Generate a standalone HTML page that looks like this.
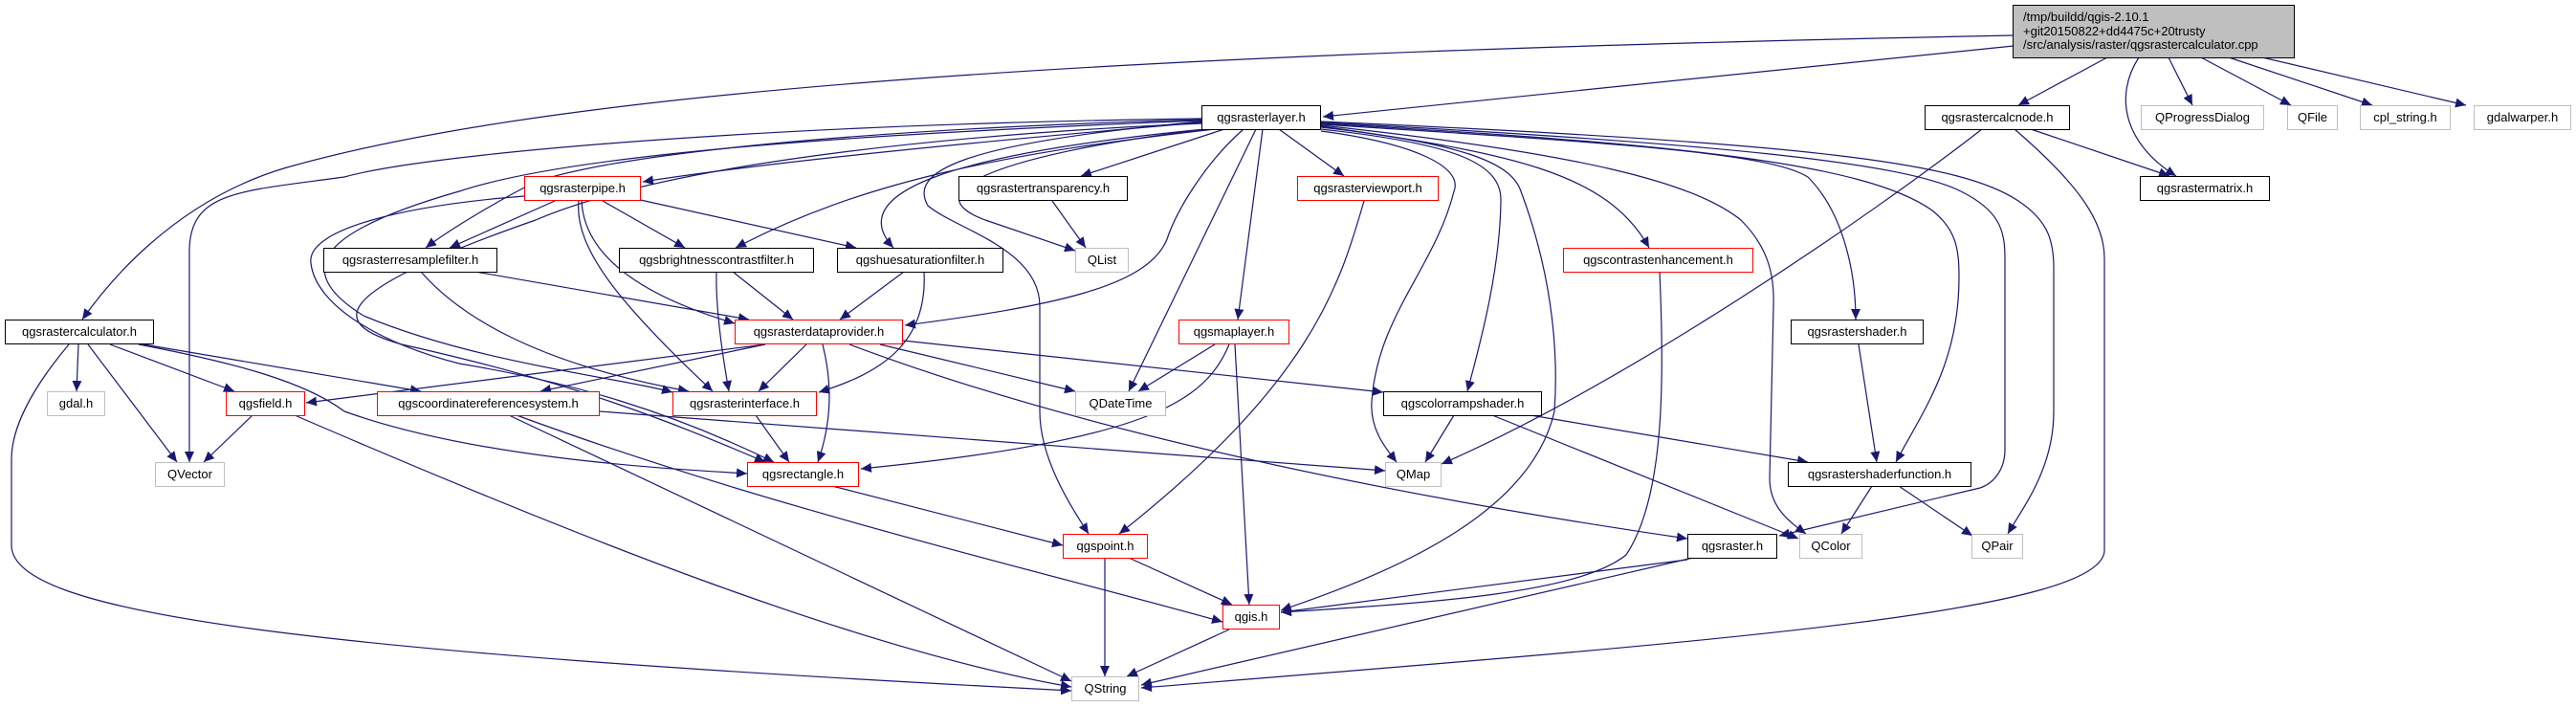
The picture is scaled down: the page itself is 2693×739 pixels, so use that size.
<!DOCTYPE html>
<html><head><meta charset="utf-8"><style>
html,body{margin:0;padding:0;background:#fff;}
#c{position:relative;width:2693px;height:739px;overflow:hidden;font-family:"Liberation Sans","DejaVu Sans",sans-serif;}
svg{position:absolute;left:0;top:0;}
.n{position:absolute;box-sizing:border-box;height:26px;background:#fff;border:1px solid #000;font-size:13px;line-height:24px;text-align:center;white-space:nowrap;color:#000;}
.b{border:1.5px solid #000;line-height:23px;}
.r{border:1px solid #ff0000;}
.g{border:1px solid #bfbfbf;}
</style></head><body><div id="c">
<svg width="2693" height="739" viewBox="0 0 2693 739">
<defs><marker id="a" markerUnits="userSpaceOnUse" markerWidth="12" markerHeight="10" refX="11" refY="5" orient="auto"><path d="M0,0 L11,5 L0,10 z" fill="#191970"/></marker></defs>
<g fill="none" stroke="#191970" stroke-width="1.2" marker-end="url(#a)">
<path d="M2105,48 L1383,122"/>
<path d="M2105,37 C1200,55 600,90 300,175 C180,210 110,300 86,334"/>
<path d="M2203,60 L2110,110"/>
<path d="M2236,60 C2210,100 2220,150 2275,184"/>
<path d="M2267,60 L2292,110"/>
<path d="M2301,60 L2395,110"/>
<path d="M2330,60 L2480,110"/>
<path d="M2365,60 L2578,110"/>
<path d="M2072,135 C1950,230 1700,400 1507,485"/>
<path d="M2123,135 L2268,184"/>
<path d="M2106,135 C2170,190 2200,230 2200,270 L2200,575 C2200,640 1800,670 1193,719"/>
<path d="M1256,128 C1000,150 800,170 672,190"/>
<path d="M1256,125 C900,135 650,160 560,190 C520,210 470,240 445,259"/>
<path d="M1256,124 C800,130 450,160 360,185 C250,200 200,200 198,260 L198,483"/>
<path d="M1256,126 C900,140 600,160 480,200 C340,240 300,280 380,330 C500,380 650,395 703,410"/>
<path d="M1256,129 C1000,140 700,170 560,230 C330,310 350,340 420,360 C600,400 700,440 800,483"/>
<path d="M1270,135 C1050,160 900,190 769,259"/>
<path d="M1260,135 C1000,160 880,200 934,259"/>
<path d="M1280,135 L1130,184"/>
<path d="M1262,135 C1050,160 950,200 1030,230 L1124,262"/>
<path d="M1300,135 C1260,170 1230,220 1220,250 C1200,300 1100,320 946,340"/>
<path d="M1313,135 L1180,409"/>
<path d="M1320,135 L1294,334"/>
<path d="M1256,127 C1000,150 950,180 970,215 C1000,240 1087,260 1087,320 L1087,430 C1087,480 1120,530 1138,558"/>
<path d="M1337,135 L1405,184"/>
<path d="M1381,137 C1480,150 1530,175 1520,200 C1500,280 1440,330 1434,420 C1432,450 1450,470 1460,483"/>
<path d="M1381,135 C1520,150 1570,170 1569,210 C1568,280 1550,350 1534,409"/>
<path d="M1381,133 C1530,150 1580,170 1590,200 C1620,280 1630,360 1625,430 C1600,540 1450,600 1339,638"/>
<path d="M1381,132 C1580,160 1680,180 1724,259"/>
<path d="M1381,130 C1700,150 1850,160 1890,185 C1925,220 1940,280 1940,334"/>
<path d="M1381,129 C1750,150 1950,170 2020,220 C2045,240 2048,260 2048,290 C2048,380 2010,430 1982,483"/>
<path d="M1381,131 C1650,160 1770,190 1820,230 C1850,260 1855,290 1854,320 L1850,500 C1850,530 1870,545 1888,558"/>
<path d="M1381,128 C1800,150 1990,170 2050,200 C2090,220 2096,240 2096,270 L2096,470 C2096,490 2085,505 2070,510 L1860,560"/>
<path d="M1381,127 C1900,150 2050,170 2110,210 C2140,230 2147,250 2147,280 L2147,430 C2147,490 2115,530 2099,558"/>
<path d="M580,210 L470,259"/>
<path d="M630,210 L716,259"/>
<path d="M665,208 L895,259"/>
<path d="M608,210 C610,250 640,300 768,338"/>
<path d="M605,210 C600,260 650,320 745,409"/>
<path d="M548,205 C420,215 320,240 325,275 C330,320 400,360 480,380 C600,400 700,430 809,483"/>
<path d="M497,284 L783,334"/>
<path d="M440,284 C480,330 560,380 720,409"/>
<path d="M766,284 L829,334"/>
<path d="M749,284 C748,320 755,370 762,409"/>
<path d="M945,284 L878,334"/>
<path d="M966,284 C970,360 920,390 856,410"/>
<path d="M1100,210 L1135,259"/>
<path d="M1426,210 C1400,300 1370,400 1170,558"/>
<path d="M800,360 L320,421"/>
<path d="M800,360 L565,409"/>
<path d="M843,360 L793,409"/>
<path d="M860,360 C870,400 870,440 855,483"/>
<path d="M920,360 L1124,409"/>
<path d="M944,356 L1446,410"/>
<path d="M888,360 C1100,440 1400,510 1764,563"/>
<path d="M1270,360 L1190,409"/>
<path d="M1285,360 C1260,420 1200,460 900,490"/>
<path d="M1291,360 L1306,632"/>
<path d="M264,434 L213,483"/>
<path d="M308,434 C600,560 900,680 1120,718"/>
<path d="M627,430 L1448,492"/>
<path d="M540,434 C800,530 1100,600 1278,650"/>
<path d="M532,434 L1120,712"/>
<path d="M82,360 L80,409"/>
<path d="M92,360 L185,483"/>
<path d="M115,360 L245,409"/>
<path d="M150,360 L440,409"/>
<path d="M145,360 C250,380 320,400 360,430 C500,480 700,490 781,495"/>
<path d="M72,360 C30,410 12,450 12,480 L12,570 C12,640 300,680 1120,722"/>
<path d="M790,434 L825,483"/>
<path d="M870,508 L1111,570"/>
<path d="M1520,434 L1490,483"/>
<path d="M1600,434 L1890,483"/>
<path d="M1560,434 L1880,563"/>
<path d="M1943,360 L1962,483"/>
<path d="M1957,508 L1925,558"/>
<path d="M1985,508 L2062,560"/>
<path d="M1735,284 C1740,400 1740,520 1700,580 C1650,620 1500,630 1339,640"/>
<path d="M1180,583 L1288,632"/>
<path d="M1155,583 L1155,707"/>
<path d="M1764,585 L1339,640"/>
<path d="M1770,583 L1193,716"/>
<path d="M1285,658 L1178,707"/>
</g>
</svg>
<div class="n" style="left:2104px;top:5px;width:295px;height:56px;background:#bfbfbf;text-align:left;padding-left:10px;line-height:14.5px;padding-top:5px;">/tmp/buildd/qgis-2.10.1<br>+git20150822+dd4475c+20trusty<br>/src/analysis/raster/qgsrastercalculator.cpp</div>
<div class="n b" style="left:1256px;top:110px;width:125px;">qgsrasterlayer.h</div>
<div class="n b" style="left:2012px;top:110px;width:152px;">qgsrastercalcnode.h</div>
<div class="n g" style="left:2238px;top:110px;width:129px;">QProgressDialog</div>
<div class="n g" style="left:2391px;top:110px;width:53px;">QFile</div>
<div class="n g" style="left:2467px;top:110px;width:95px;">cpl_string.h</div>
<div class="n g" style="left:2586px;top:110px;width:102px;">gdalwarper.h</div>
<div class="n r" style="left:548px;top:184px;width:122px;">qgsrasterpipe.h</div>
<div class="n b" style="left:1002px;top:184px;width:177px;">qgsrastertransparency.h</div>
<div class="n r" style="left:1356px;top:184px;width:148px;">qgsrasterviewport.h</div>
<div class="n b" style="left:2237px;top:184px;width:136px;">qgsrastermatrix.h</div>
<div class="n b" style="left:338px;top:259px;width:182px;">qgsrasterresamplefilter.h</div>
<div class="n b" style="left:647px;top:259px;width:204px;">qgsbrightnesscontrastfilter.h</div>
<div class="n b" style="left:875px;top:259px;width:174px;">qgshuesaturationfilter.h</div>
<div class="n g" style="left:1124px;top:259px;width:56px;">QList</div>
<div class="n r" style="left:1634px;top:259px;width:199px;">qgscontrastenhancement.h</div>
<div class="n b" style="left:5px;top:334px;width:156px;">qgsrastercalculator.h</div>
<div class="n r" style="left:768px;top:334px;width:176px;">qgsrasterdataprovider.h</div>
<div class="n r" style="left:1232px;top:334px;width:116px;">qgsmaplayer.h</div>
<div class="n b" style="left:1872px;top:334px;width:139px;">qgsrastershader.h</div>
<div class="n g" style="left:49px;top:409px;width:61px;">gdal.h</div>
<div class="n r" style="left:236px;top:409px;width:83px;">qgsfield.h</div>
<div class="n r" style="left:394px;top:409px;width:233px;">qgscoordinatereferencesystem.h</div>
<div class="n r" style="left:703px;top:409px;width:151px;">qgsrasterinterface.h</div>
<div class="n g" style="left:1124px;top:409px;width:95px;">QDateTime</div>
<div class="n b" style="left:1446px;top:409px;width:166px;">qgscolorrampshader.h</div>
<div class="n g" style="left:162px;top:483px;width:73px;">QVector</div>
<div class="n r" style="left:781px;top:483px;width:117px;">qgsrectangle.h</div>
<div class="n g" style="left:1448px;top:483px;width:59px;">QMap</div>
<div class="n b" style="left:1869px;top:483px;width:192px;">qgsrastershaderfunction.h</div>
<div class="n r" style="left:1111px;top:558px;width:89px;">qgspoint.h</div>
<div class="n b" style="left:1764px;top:558px;width:94px;">qgsraster.h</div>
<div class="n g" style="left:1881px;top:558px;width:66px;">QColor</div>
<div class="n g" style="left:2061px;top:558px;width:54px;">QPair</div>
<div class="n r" style="left:1278px;top:632px;width:60px;">qgis.h</div>
<div class="n g" style="left:1120px;top:707px;width:71px;">QString</div>
</div></body></html>
